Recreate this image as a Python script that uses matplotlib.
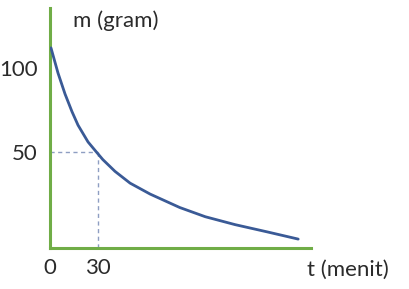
"""Decay curve of mass m (gram) against time t (menit), half value at t = 30."""

import matplotlib
matplotlib.use("Agg")
import matplotlib.pyplot as plt

t_menit = [0.6, 5, 9.4, 13.75, 17.5, 23.75, 29, 33, 40.6, 50, 62.5, 81, 97,
           115.6, 135.6, 155]
m_gram = [112, 97, 84.5, 74, 66, 56, 50, 45.5, 38.5, 31.5, 25, 17, 11.5,
          6.8, 2.5, -1.8]
x_ticks = [0, 30]
y_ticks = [50, 100]
t_half = 30
m_half = 50

plt.rcParams['font.family'] = ['Lato', 'DejaVu Sans']

fig = plt.figure(figsize=(4.1, 2.89), dpi=100)
ax = fig.add_axes([50 / 410, 41 / 289, 261 / 410, 240 / 289])

ax.plot(t_menit, m_gram, color="#3A5A96", lw=2.0, solid_joinstyle="round",
        solid_capstyle="round", zorder=3)

# dashed guide lines to the 50 gram point
ax.plot([0, t_half], [m_half, m_half], color="#8E9EC2", lw=1.0,
        dashes=(3, 2.5), zorder=2)
ax.plot([t_half, t_half], [-7.1, m_half], color="#8E9EC2", lw=1.0,
        dashes=(3, 2.5), zorder=2)

ax.set_xlim(0, 163)
ax.set_ylim(-7.1, 135.7)
ax.set_xticks(x_ticks)
ax.set_yticks(y_ticks)
ax.tick_params(length=0, labelsize=16, colors="#2b2b2b")
ax.tick_params(axis="y", pad=9)
ax.tick_params(axis="x", pad=7)

for side in ["top", "right"]:
    ax.spines[side].set_visible(False)
for side in ["left", "bottom"]:
    ax.spines[side].set_color("#70AD47")
    ax.spines[side].set_linewidth(2.2)

ax.text(0.088, 0.945, "m (gram)", transform=ax.transAxes, fontsize=16,
        color="#2b2b2b", ha="left", va="center")
ax.text(0.985, -0.09, "t (menit)", transform=ax.transAxes, fontsize=16,
        color="#2b2b2b", ha="left", va="center", clip_on=False)

fig.savefig("out.png", dpi=100)
